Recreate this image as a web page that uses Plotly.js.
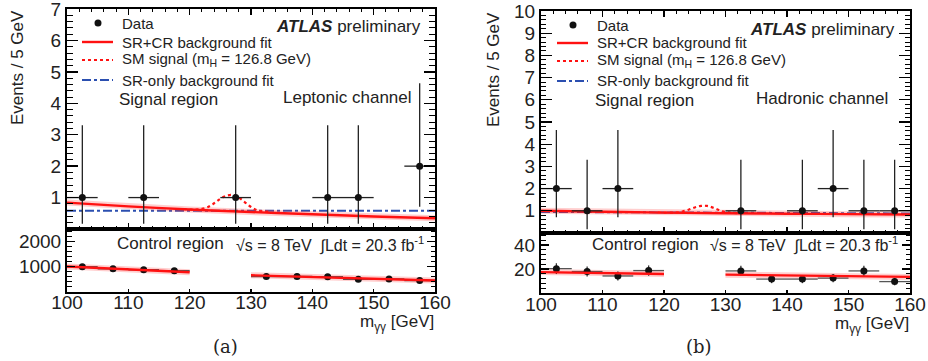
<!DOCTYPE html>
<html><head><meta charset="utf-8">
<script src="https://cdn.plot.ly/plotly-3.0.1.min.js"></script>
<style>html,body{margin:0;padding:0;background:#fff}#chart{width:928px;height:361px}</style>
</head><body><div id="chart"></div>
<script>
// ---------------- DATA ----------------
// (a) Leptonic channel, signal region
const lepSR_x = [102.5, 112.5, 127.5, 142.5, 147.5, 157.5];
const lepSR_y = [1, 1, 1, 1, 1, 2];
const lepSR_errUp = [2.30, 2.30, 2.30, 2.30, 2.30, 2.64];
const lepSR_errDn = [0.83, 0.83, 0.83, 0.83, 0.83, 1.29];
const lepFit_x = [100, 110, 120, 130, 140, 150, 160];
const lepFit_y = [0.84, 0.72, 0.62, 0.54, 0.47, 0.40, 0.34];
const lepSig_x = [119, 120, 121, 122, 123, 124, 125, 126, 127, 128, 129, 130, 131, 132, 133];
const lepSig_y = [0.63, 0.62, 0.62, 0.64, 0.70, 0.82, 0.96, 1.06, 1.08, 1.00, 0.85, 0.70, 0.60, 0.56, 0.55];
const lepSROnly_x = [100, 160];
const lepSROnly_y = [0.58, 0.58];
// (a) Leptonic channel, control region
const lepCR_x = [102.5, 107.5, 112.5, 117.5, 132.5, 137.5, 142.5, 147.5, 152.5, 157.5];
const lepCR_y = [990, 910, 870, 830, 600, 600, 590, 490, 500, 440];
const lepCR_err = [31, 30, 29, 29, 24, 24, 24, 22, 22, 21];
const lepCRFitLo_x = [100, 110, 120];
const lepCRFitLo_y = [1000, 880, 770];
const lepCRFitHi_x = [130, 140, 150, 160];
const lepCRFitHi_y = [650, 570, 500, 440];

// (b) Hadronic channel, signal region
const hadSR_x = [102.5, 107.5, 112.5, 132.5, 142.5, 147.5, 152.5, 157.5];
const hadSR_y = [2, 1, 2, 1, 1, 2, 1, 1];
const hadSR_errUp = [2.64, 2.30, 2.64, 2.30, 2.30, 2.64, 2.30, 2.30];
const hadSR_errDn = [1.29, 0.83, 1.29, 0.83, 0.83, 1.29, 0.83, 0.83];
const hadFit_x = [100, 110, 120, 130, 140, 150, 160];
const hadFit_y = [1.00, 0.96, 0.92, 0.89, 0.87, 0.85, 0.83];
const hadSig_x = [119, 120, 121, 122, 123, 124, 125, 126, 127, 128, 129, 130, 131, 132, 133];
const hadSig_y = [0.93, 0.92, 0.92, 0.93, 0.97, 1.05, 1.15, 1.22, 1.22, 1.14, 1.03, 0.95, 0.91, 0.89, 0.89];
const hadSROnly_x = [100, 160];
const hadSROnly_y = [0.95, 0.88];
// (b) Hadronic channel, control region
const hadCR_x = [102.5, 107.5, 112.5, 117.5, 132.5, 137.5, 142.5, 147.5, 152.5, 157.5];
const hadCR_y = [20.3, 17.9, 14.2, 18.7, 18.4, 11.6, 11.6, 12.4, 18.4, 9.5];
const hadCR_err = [4.5, 4.2, 3.8, 4.3, 4.3, 3.4, 3.4, 3.5, 4.3, 3.1];
const hadCRFitLo_x = [100, 110, 120];
const hadCRFitLo_y = [17.4, 16.6, 15.8];
const hadCRFitHi_x = [130, 140, 150, 160];
const hadCRFitHi_y = [15.3, 14.6, 14.0, 13.4];

// Tick labels
const yTicksLepSR = [1, 2, 3, 4, 5, 6, 7];
const yTicksLepCR = [1000, 2000];
const yTicksHadSR = [1, 2, 3, 4, 5, 6, 7, 8, 9, 10];
const yTicksHadCR = [20, 40];
// Legend labels
const legendLabels = ['Data', 'SR+CR background fit', 'SM signal (m<sub>H</sub> = 126.8 GeV)', 'SR-only background fit'];

// ---------------- STYLE / LAYOUT ----------------
const W = 928, H = 361;
const px = v => v / W;
const py = v => 1 - v / H;
const FONT = 'Liberation Sans, Arial, Helvetica, sans-serif';
const RED = '#ff1111', BLUE = '#2b4fb0';

function srTraces(x, y, up, dn, sx, sy, bx, by, fx, fy, xa, ya) {
  return [
    {x: bx, y: by, xaxis: xa, yaxis: ya, type: 'scatter', mode: 'lines', name: legendLabels[3],
     line: {color: BLUE, width: 2, dash: 'dashdot'}},
    {x: sx, y: sy, xaxis: xa, yaxis: ya, type: 'scatter', mode: 'lines', name: legendLabels[2],
     line: {color: RED, width: 2.2, dash: 'dot', shape: 'spline'}},
    {x: fx, y: fy, xaxis: xa, yaxis: ya, type: 'scatter', mode: 'lines', name: 'fit band',
     line: {color: 'rgba(255,60,60,0.25)', width: 6}, hoverinfo: 'skip'},
    {x: fx, y: fy, xaxis: xa, yaxis: ya, type: 'scatter', mode: 'lines', name: legendLabels[1],
     line: {color: RED, width: 2.4, shape: 'spline'}},
    {x: x, y: y, xaxis: xa, yaxis: ya, type: 'scatter', mode: 'markers', name: legendLabels[0],
     marker: {color: '#111', size: 7},
     error_y: {type: 'data', symmetric: false, array: up, arrayminus: dn, width: 0, thickness: 1.3, color: '#222'},
     error_x: {type: 'constant', value: 2.5, width: 0, thickness: 1.3, color: '#222'}}
  ];
}
function crTraces(x, y, e, lx, ly, hx, hy, xa, ya) {
  const out = [];
  [[lx, ly], [hx, hy]].forEach(([a, b]) => {
    out.push({x: a, y: b, xaxis: xa, yaxis: ya, type: 'scatter', mode: 'lines', name: 'fit band',
      line: {color: 'rgba(255,60,60,0.25)', width: 6}, hoverinfo: 'skip'});
  });
  out.push({x: x, y: y, xaxis: xa, yaxis: ya, type: 'scatter', mode: 'markers', name: 'Data (CR)',
    marker: {color: '#111', size: 7},
    error_y: {type: 'data', array: e, width: 0, thickness: 1.3, color: '#333'},
    error_x: {type: 'constant', value: 2.5, width: 0, thickness: 1.3, color: '#555'}});
  [[lx, ly], [hx, hy]].forEach(([a, b]) => {
    out.push({x: a, y: b, xaxis: xa, yaxis: ya, type: 'scatter', mode: 'lines', name: 'CR fit',
      line: {color: RED, width: 2.4}});
  });
  return out;
}

const data = [].concat(
  srTraces(lepSR_x, lepSR_y, lepSR_errUp, lepSR_errDn, lepSig_x, lepSig_y, lepSROnly_x, lepSROnly_y, lepFit_x, lepFit_y, 'x', 'y'),
  crTraces(lepCR_x, lepCR_y, lepCR_err, lepCRFitLo_x, lepCRFitLo_y, lepCRFitHi_x, lepCRFitHi_y, 'x2', 'y2'),
  srTraces(hadSR_x, hadSR_y, hadSR_errUp, hadSR_errDn, hadSig_x, hadSig_y, hadSROnly_x, hadSROnly_y, hadFit_x, hadFit_y, 'x3', 'y3'),
  crTraces(hadCR_x, hadCR_y, hadCR_err, hadCRFitLo_x, hadCRFitLo_y, hadCRFitHi_x, hadCRFitHi_y, 'x4', 'y4')
);
data.forEach(t => t.showlegend = false);

const tickFont = {family: FONT, size: 19, color: '#222'};
function xAxis(dom, anchor, labels) {
  const a = {domain: dom, anchor: anchor, range: [100, 160], tickmode: 'linear', tick0: 100, dtick: 10,
    showline: true, linecolor: '#000', linewidth: 2, showgrid: false, zeroline: false,
    showticklabels: labels, tickfont: tickFont, tickcolor: '#000', tickwidth: 1.3, fixedrange: true};
  if (labels) {
    Object.assign(a, {mirror: true, ticks: 'inside', ticklen: 3, ticklabelstandoff: -7});
  } else {
    Object.assign(a, {mirror: 'ticks', ticks: 'inside', ticklen: 6,
      minor: {ticks: 'inside', ticklen: 3, tickmode: 'linear', tick0: 100, dtick: 2, tickcolor: '#000', tickwidth: 1}});
  }
  return a;
}
function yAxis(dom, anchor, range, vals, mdt, len, mlen) {
  return {domain: dom, anchor: anchor, range: range, tickmode: 'array', tickvals: vals,
    showline: true, linecolor: '#000', linewidth: 2, mirror: 'ticks', ticks: 'inside', ticklen: len,
    tickcolor: '#000', tickwidth: 1.3, showgrid: false, zeroline: false, tickfont: tickFont, fixedrange: true,
    ticklabeloverflow: 'allow',
    minor: {ticks: 'inside', ticklen: mlen, tickmode: 'linear', tick0: 0, dtick: mdt, tickcolor: '#000', tickwidth: 1}};
}

const axA = [px(67), px(435)], axB = [px(541), px(910)];
const layout = {
  width: W, height: H, margin: {l: 0, r: 0, t: 0, b: 0}, paper_bgcolor: '#fff', plot_bgcolor: '#fff',
  font: {family: FONT, color: '#222'}, showlegend: false,
  xaxis: xAxis(axA, 'y', false),
  yaxis: yAxis([py(229), py(9)], 'x', [0, 7], yTicksLepSR, 0.2, 11, 6),
  xaxis2: xAxis(axA, 'y2', true),
  yaxis2: yAxis([py(291.5), py(229)], 'x2', [0, 2500], yTicksLepCR, 200, 8, 4.5),
  xaxis3: xAxis(axB, 'y3', false),
  yaxis3: yAxis([py(233), py(11)], 'x3', [0, 10], yTicksHadSR, 0.2, 11, 5),
  xaxis4: xAxis(axB, 'y4', true),
  yaxis4: yAxis([py(293), py(233)], 'x4', [0, 50], yTicksHadCR, 4, 8, 4.5),
  annotations: [], shapes: []
};

function ann(text, x, y, xanchor, size, extra) {
  return Object.assign({text: text, x: px(x), y: py(y), xref: 'paper', yref: 'paper', xanchor: xanchor,
    yanchor: 'middle', showarrow: false, font: {family: FONT, size: size, color: '#222'}}, extra || {});
}
const panels = [
  {chan: 'Leptonic channel', lab: '(a)', chanX: 414, atlasX: 423, atlasY: 27, srX: 117, srY: 99, chanY: 97,
   crX: 115, crY: 243, lumX: 426, lumY: 244, mX: 436, mY: 323, labX: 225, evX: 18, evY: 68,
   legSym: 82, legTxt: 120, legRows: [23, 42, 60, 80]},
  {chan: 'Hadronic channel', lab: '(b)', chanX: 890, atlasX: 897, atlasY: 29, srX: 593, srY: 100, chanY: 98,
   crX: 590, crY: 245, lumX: 900, lumY: 245, mX: 911, mY: 325, labX: 699, evX: 493, evY: 70,
   legSym: 557, legTxt: 595, legRows: [25, 43, 61, 81]}
];
const legStyles = [null, {color: RED, width: 2.4, dash: 'solid'}, {color: RED, width: 2.2, dash: 'dot'}, {color: BLUE, width: 2, dash: 'dashdot'}];
panels.forEach(p => {
  layout.annotations.push(
    ann('<b><i>ATLAS</i></b> preliminary', p.atlasX, p.atlasY, 'right', 17),
    ann('Signal region', p.srX, p.srY, 'left', 17),
    ann(p.chan, p.chanX, p.chanY, 'right', 17),
    ann('Control region', p.crX, p.crY, 'left', 17),
    ann('√s = 8 TeV  ∫Ldt = 20.3 fb<sup>-1</sup>', p.lumX, p.lumY, 'right', 16),
    ann('m<sub>γγ</sub> [GeV]', p.mX, p.mY, 'right', 17),
    ann(p.lab, p.labX, 346, 'center', 18, {font: {family: 'DejaVu Serif, serif', size: 18, color: '#222'}}),
    ann('Events / 5 GeV', p.evX, p.evY, 'center', 17, {textangle: -90})
  );
  // legend
  legendLabels.forEach((lbl, i) => {
    const yy = p.legRows[i];
    layout.annotations.push(ann(lbl, p.legTxt, yy, 'left', 15));
    if (i === 0) {
      const cx = p.legSym + 16;
      layout.shapes.push({type: 'circle', xref: 'paper', yref: 'paper', x0: px(cx - 3.5), x1: px(cx + 3.5),
        y0: py(yy + 3.5), y1: py(yy - 3.5), fillcolor: '#111', line: {width: 0}});
    } else {
      layout.shapes.push({type: 'line', xref: 'paper', yref: 'paper', x0: px(p.legSym), x1: px(p.legSym + 31),
        y0: py(yy), y1: py(yy), line: legStyles[i]});
    }
  });
});

Plotly.newPlot('chart', data, layout, {displayModeBar: false, staticPlot: true});
</script></body></html>
